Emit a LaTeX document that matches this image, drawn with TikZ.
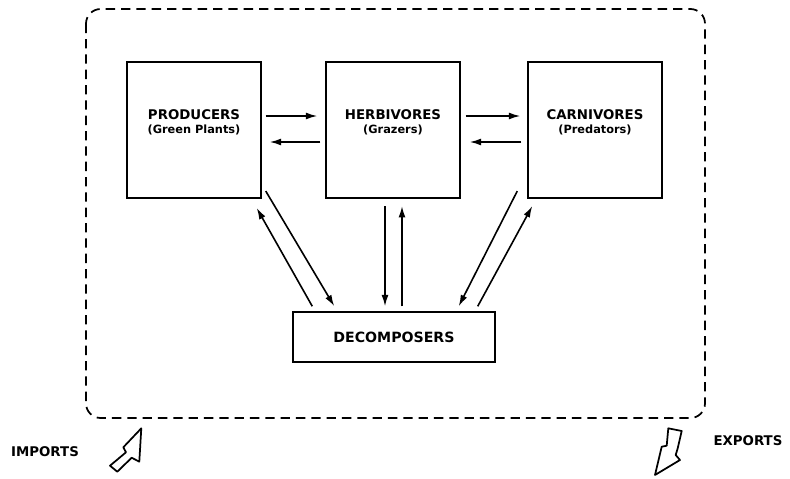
\documentclass[tikz,border=0pt]{standalone}
\usepackage{fontspec}
\setmainfont{DejaVu Sans}
\usetikzlibrary{arrows.meta,calc}
\tikzset{
	level/.style={draw, line width=1.6pt, minimum width=100pt, minimum height=102pt, inner sep=0pt},
	levelname/.style={main, align=center, yshift=5.5pt},
	flow/.style={line width=1.2pt, -{Latex[length=8.5pt,width=5.2pt]}},
	bolt/.style={line width=1.3pt, line join=round},
	main/.style={font=\bfseries\fontsize{10}{12}\selectfont},
}
\newcommand{\sublabel}[1]{{\fontsize{8.5}{10}\selectfont #1}}
\begin{document}
\begin{tikzpicture}[x=0.75pt,y=-0.75pt]
		\useasboundingbox (0,0) rectangle (790,479);
		%system boundary
		\draw[line width=1.3pt, dash pattern=on 7pt off 4.5pt, rounded corners=11pt] (86,9) rectangle (705,418);
		
		%trophic levels
		\node[level, label={[levelname]center:PRODUCERS\\[-1.5pt]\sublabel{(Green Plants)}}] (prod) at (194,130) {};
		\node[level, label={[levelname]center:HERBIVORES\\[-1.5pt]\sublabel{(Grazers)}}] (herb) at (393,130) {};
		\node[level, label={[levelname]center:CARNIVORES\\[-1.5pt]\sublabel{(Predators)}}] (carn) at (595,130) {};
		\node[draw, line width=1.6pt, minimum width=151pt, minimum height=37pt, main, font=\bfseries\fontsize{10.6}{12}\selectfont] (decomp) at (394,337) {DECOMPOSERS};
		
		%flows between levels
		\draw[flow] ($(prod.east)+(4,-14)$) -- ($(herb.west)+(-8,-14)$);
		\draw[flow] ($(herb.west)+(-5,12)$) -- ($(prod.east)+(8,12)$);
		\draw[flow] ($(herb.east)+(5,-14)$) -- ($(carn.west)+(-7,-14)$);
		\draw[flow] ($(carn.west)+(-6,12)$) -- ($(herb.east)+(9,12)$);
		
		%flows to and from decomposers
		\draw[flow] ($(herb.south)+(-8,7)$) -- ($(decomp.north)+(-9,-5)$);
		\draw[flow] ($(decomp.north)+(8,-5)$) -- ($(herb.south)+(9,7)$);
		\draw[flow] ($(prod.south east)+(4,-8)$) -- ($(decomp.north west)+(42,-5)$);
		\draw[flow] ($(decomp.north west)+(20,-5)$) -- ($(prod.south east)+(-5,9)$);
		\draw[flow] ($(carn.south west)+(-10,-8)$) -- ($(decomp.north east)+(-37,-5)$);
		\draw[flow] ($(decomp.north east)+(-18,-5)$) -- ($(carn.south west)+(5,7)$);
		
		%imports and exports
		\draw[bolt] (141.3,428.3) -- (123.3,447.3) -- (126,452.3) -- (110,465.7) -- (117.3,471.7) -- (131.7,457.7) -- (139.3,461.7) -- cycle;
		\draw[bolt] (668.3,428.3) -- (681.7,431) -- (677.7,448.3) -- (675.7,455) -- (680,460) -- (655,475) -- (661.7,446.7) -- (666.7,445.7) -- cycle;
		\node[main] (imports) at (45,452) {IMPORTS};
		\node[main] (exports) at (748,441) {EXPORTS};
\end{tikzpicture}
\end{document}
